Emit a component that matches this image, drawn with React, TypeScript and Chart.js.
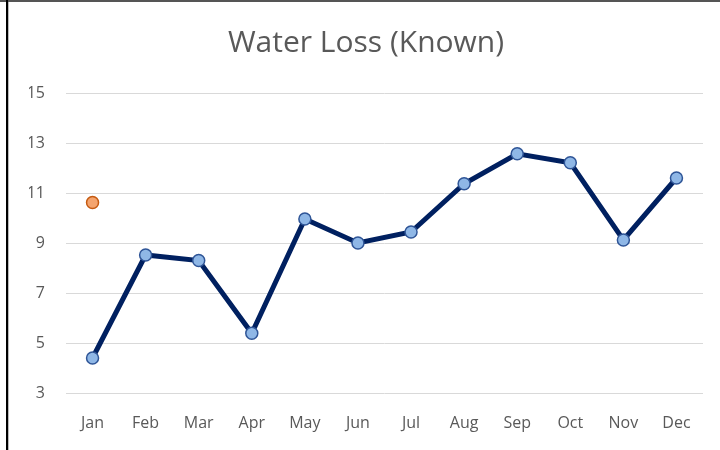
import React, { useEffect, useRef } from "react";
import { Chart, registerables } from "chart.js";

Chart.register(...registerables);

const months = ["Jan", "Feb", "Mar", "Apr", "May", "Jun", "Jul", "Aug", "Sep", "Oct", "Nov", "Dec"];
const knownLoss = [4.4, 8.52, 8.3, 5.39, 9.96, 9.0, 9.44, 11.37, 12.57, 12.21, 9.12, 11.6];
const otherPoint = [10.62, null, null, null, null, null, null, null, null, null, null, null];
const yMin = 3;
const yMax = 15;
const yStep = 2;
const titleText = "Water Loss (Known)";

const FONT = "'Open Sans', Lato, sans-serif";
const TEXT = "#595959";

export default function App() {
  const ref = useRef<HTMLCanvasElement | null>(null);
  useEffect(() => {
    if (!ref.current) return;
    const chart = new Chart(ref.current, {
      type: "line",
      data: {
        labels: months,
        datasets: [
          {
            label: "Known",
            data: knownLoss,
            borderColor: "#002060",
            borderWidth: 5,
            pointRadius: 6,
            pointBorderWidth: 1.5,
            pointBackgroundColor: "#8FB7E6",
            pointBorderColor: "#2F5597",
            tension: 0,
            order: 1,
          },
          {
            label: "Other",
            data: otherPoint,
            showLine: false,
            pointRadius: 6,
            pointBorderWidth: 1.5,
            pointBackgroundColor: "#F4A46E",
            pointBorderColor: "#C55A11",
            order: 0,
          },
        ],
      },
      options: {
        responsive: false,
        animation: false,
        layout: { padding: { left: 29, right: 17, top: 0, bottom: 0 } },
        plugins: {
          legend: { display: false },
          tooltip: { enabled: false },
          title: {
            display: true,
            text: titleText,
            color: TEXT,
            font: { family: FONT, size: 30, weight: "normal", lineHeight: 1.2 },
            padding: { top: 25, bottom: 32 },
          },
        },
        scales: {
          x: {
            offset: true,
            grid: { display: false, drawTicks: false },
            border: { display: false },
            ticks: { color: TEXT, font: { family: FONT, size: 16 }, padding: 21 },
            afterFit: (s: any) => {
              s.height = 57;
            },
          },
          y: {
            min: yMin,
            max: yMax,
            grid: { color: "#D9D9D9", lineWidth: 1, drawTicks: false },
            border: { display: false },
            ticks: { stepSize: yStep, color: TEXT, font: { family: FONT, size: 16 }, padding: 21 },
            afterFit: (s: any) => {
              s.width = 37;
            },
          },
        },
      },
    });
    return () => chart.destroy();
  }, []);

  return (
    <div style={{ position: "fixed", left: 0, top: 0, width: 720, height: 450, background: "#fff" }}>
      <canvas ref={ref} width={720} height={450} style={{ display: "block" }} />
      <div style={{ position: "absolute", left: 0, top: 0, width: 720, height: 2, background: "#555" }} />
      <div style={{ position: "absolute", left: 6, top: 0, width: 2, height: 450, background: "#000" }} />
      <div style={{ position: "absolute", left: 8, top: 2, width: 1, height: 448, background: "#BBB" }} />
    </div>
  );
}
